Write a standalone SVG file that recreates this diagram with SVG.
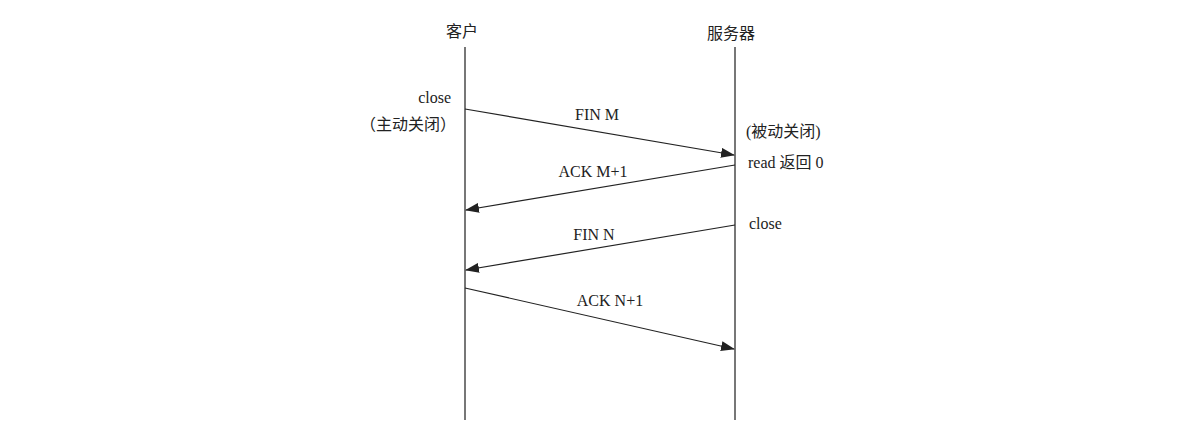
<svg xmlns="http://www.w3.org/2000/svg" width="1196" height="442" viewBox="0 0 1196 442">
<style>
text{font-family:"Liberation Serif","Noto Sans CJK SC",serif;font-size:16px;fill:#222}
.cjk{font-family:"Noto Sans CJK SC",sans-serif;font-size:16px}
.life{stroke:#555;stroke-width:1.6}
.msg{stroke:#222;stroke-width:1.2;fill:none;marker-end:url(#ah)}
</style>
<defs><marker id="ah" markerWidth="14" markerHeight="10" refX="13" refY="5" orient="auto" markerUnits="userSpaceOnUse"><path d="M0,0 L14,5 L0,10 z" fill="#222"/></marker></defs>
<rect width="1196" height="442" fill="#fff"/>
<g id="client"><line class="life" x1="465" y1="47" x2="465" y2="420"/><text class="cjk" x="462" y="37" text-anchor="middle">客户</text></g>
<g id="server"><line class="life" x1="735" y1="47" x2="735" y2="420"/><text class="cjk" x="731" y="39" text-anchor="middle">服务器</text></g>
<g id="notes">
<text x="451" y="103" text-anchor="end">close</text>
<text class="cjk" x="456" y="130" text-anchor="end">（主动关闭）</text>
<text x="746" y="137">(<tspan class="cjk">被动关闭</tspan>)</text>
<text x="748" y="168">read <tspan class="cjk">返回</tspan> 0</text>
<text x="749" y="229">close</text>
</g>
<g id="connectors">
<line class="msg" x1="465" y1="109" x2="734" y2="155"/>
<line class="msg" x1="735" y1="165" x2="466" y2="210"/>
<line class="msg" x1="735" y1="225" x2="466" y2="270"/>
<line class="msg" x1="465" y1="288" x2="734" y2="349"/>
<text x="597" y="120" text-anchor="middle">FIN M</text>
<text x="593" y="177" text-anchor="middle">ACK M+1</text>
<text x="594" y="240" text-anchor="middle">FIN N</text>
<text x="610" y="306" text-anchor="middle">ACK N+1</text>
</g>
</svg>
